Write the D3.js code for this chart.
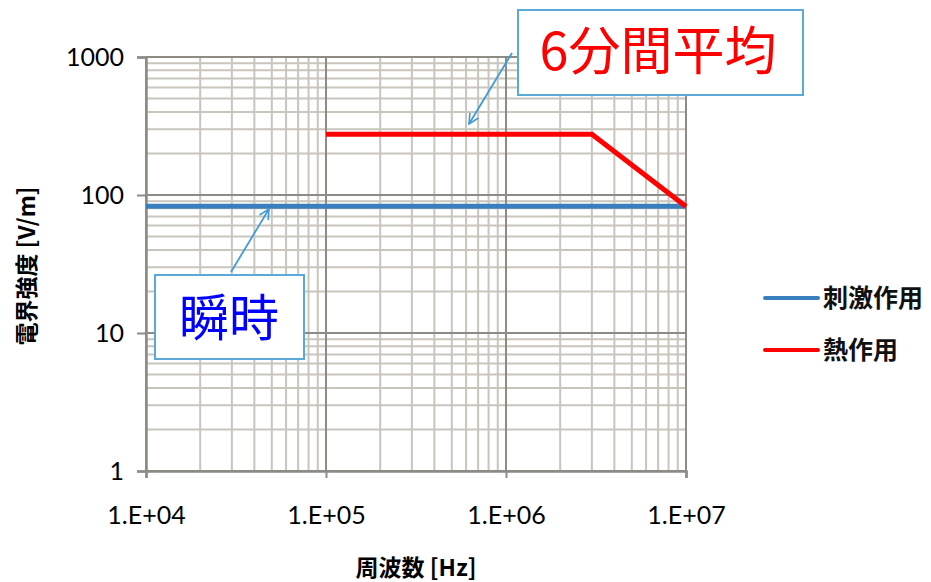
<!DOCTYPE html>
<html>
<head>
<meta charset="utf-8">
<script src="https://cdn.jsdelivr.net/npm/d3@7"></script>
<style>
  body { margin: 0; background: #fff; }
  svg { display: block; }
</style>
</head>
<body>
<svg id="chart"></svg>
<script>
// data
const series = ['刺激作用', '熱作用'];
const colors = ['#3a7fbd', '#ff0000'];
const stimFreq = [1e4, 1e7];
const stimField = [83, 83];
const heatFreq = [1e5, 3e6, 1e7];
const heatField = [275, 275, 82.4];
const xTicks = [1e4, 1e5, 1e6, 1e7];
const xTickLabels = ['1.E+04', '1.E+05', '1.E+06', '1.E+07'];
const yTicks = [1, 10, 100, 1000];
const yTickLabels = ['1', '10', '100', '1000'];

const width = 931, height = 582;
const margin = { left: 146, right: 245, top: 57, bottom: 111 };

const svg = d3.select('#chart')
  .attr('width', width)
  .attr('height', height);

const x = d3.scaleLog()
  .domain([1e4, 1e7])
  .range([margin.left, width - margin.right]);

const y = d3.scaleLog()
  .domain([1, 1000])
  .range([height - margin.bottom, margin.top]);

// minor values 2..9 in each decade
const minorX = [];
for (let d = 1e4; d < 1e7; d *= 10) for (let k = 2; k <= 9; k++) minorX.push(d * k);
const minorY = [];
for (let d = 1; d < 1000; d *= 10) for (let k = 2; k <= 9; k++) minorY.push(d * k);

const grid = svg.append('g');
grid.selectAll('.mx').data(minorX).enter().append('line')
  .attr('x1', (d) => x(d)).attr('x2', (d) => x(d))
  .attr('y1', y(1)).attr('y2', y(1000))
  .attr('stroke', '#c9c5bd').attr('stroke-width', 2);
grid.selectAll('.my').data(minorY).enter().append('line')
  .attr('y1', (d) => y(d)).attr('y2', (d) => y(d))
  .attr('x1', x(1e4)).attr('x2', x(1e7))
  .attr('stroke', '#c9c5bd').attr('stroke-width', 2);
grid.selectAll('.Mx').data(xTicks).enter().append('line')
  .attr('x1', (d) => x(d)).attr('x2', (d) => x(d))
  .attr('y1', y(1)).attr('y2', y(1000) - 1)
  .attr('stroke', '#8e8b87').attr('stroke-width', 2);
grid.selectAll('.My').data(yTicks).enter().append('line')
  .attr('y1', (d) => y(d)).attr('y2', (d) => y(d))
  .attr('x1', x(1e4)).attr('x2', x(1e7))
  .attr('stroke', '#8e8b87').attr('stroke-width', 2);

// axes
const xAxis = d3.axisBottom(x)
  .tickValues(xTicks)
  .tickFormat((d, i) => xTickLabels[i])
  .tickSize(7).tickPadding(28);
const yAxis = d3.axisLeft(y)
  .tickValues(yTicks)
  .tickFormat((d, i) => yTickLabels[i])
  .tickSize(9).tickPadding(13);

const gx = svg.append('g')
  .attr('transform', `translate(0,${y(1)})`)
  .call(xAxis);
const gy = svg.append('g')
  .attr('transform', `translate(${x(1e4)},0)`)
  .call(yAxis);

[gx, gy].forEach((g) => {
  g.select('.domain').attr('stroke', '#8e8b87').attr('stroke-width', 2.5);
  g.selectAll('.tick line').attr('stroke', '#8e8b87').attr('stroke-width', 2);
  g.selectAll('.tick text')
    .attr('fill', '#000')
    .style('font-family', 'Lato, "Open Sans", sans-serif')
    .style('font-size', '25px');
});
gy.selectAll('.tick text').attr('dy', '0.35em');

// series
const line = d3.line()
  .x((d) => x(d[0]))
  .y((d) => y(d[1]));

svg.append('path')
  .datum(stimFreq.map((f, i) => [f, stimField[i]]))
  .attr('d', line)
  .attr('fill', 'none')
  .attr('stroke', colors[0])
  .attr('stroke-width', 5);

svg.append('path')
  .datum(heatFreq.map((f, i) => [f, heatField[i]]))
  .attr('d', line)
  .attr('fill', 'none')
  .attr('stroke', colors[1])
  .attr('stroke-width', 5);

// axis titles
const jp = '"Noto Sans CJK JP", "Noto Sans", sans-serif';
svg.append('text')
  .attr('x', 416).attr('y', 568)
  .attr('dy', '0.35em')
  .attr('text-anchor', 'middle')
  .style('font-family', jp)
  .style('font-size', '23px')
  .style('font-weight', 'bold')
  .text('周波数 [Hz]');

svg.append('text')
  .attr('transform', 'translate(27,266) rotate(-90)')
  .attr('dy', '0.35em')
  .attr('text-anchor', 'middle')
  .style('font-family', jp)
  .style('font-size', '23px')
  .style('font-weight', 'bold')
  .text('電界強度 [V/m]');

// legend
const legend = svg.append('g');
series.forEach((s, i) => {
  const ly = 298 + i * 52;
  legend.append('line')
    .attr('x1', 765).attr('x2', 818)
    .attr('y1', ly).attr('y2', ly)
    .attr('stroke', colors[i])
    .attr('stroke-width', 4)
    .attr('stroke-linecap', 'round');
  legend.append('text')
    .attr('x', 823).attr('y', ly)
    .attr('dy', '0.35em')
    .style('font-family', jp)
    .style('font-size', '25px')
    .style('font-weight', 'bold')
    .attr('fill', '#111')
    .text(s);
});

// callouts
const defs = svg.append('defs');
defs.append('marker')
  .attr('id', 'arr')
  .attr('viewBox', '0 0 12 12')
  .attr('refX', 11).attr('refY', 6)
  .attr('markerWidth', 12).attr('markerHeight', 12)
  .attr('markerUnits', 'userSpaceOnUse')
  .attr('orient', 'auto')
  .append('path')
  .attr('d', 'M1,1 L11,6 L1,11')
  .attr('fill', 'none')
  .attr('stroke', '#3f9bd6')
  .attr('stroke-width', 1.6);

const callouts = [
  { text: '6分間平均', color: '#ff0000', box: [518, 10, 285, 85], from: [512, 53], to: [469, 124], tx: 658, ty: 52, size: 52 },
  { text: '瞬時', color: '#0000ff', box: [155, 275, 149, 84], from: [231, 272], to: [269, 209], tx: 229, ty: 318, size: 50 }
];

callouts.forEach((c) => {
  svg.append('line')
    .attr('x1', c.from[0]).attr('y1', c.from[1])
    .attr('x2', c.to[0]).attr('y2', c.to[1])
    .attr('stroke', '#3f9bd6')
    .attr('stroke-width', 1.8)
    .attr('marker-end', 'url(#arr)');
  svg.append('rect')
    .attr('x', c.box[0]).attr('y', c.box[1])
    .attr('width', c.box[2]).attr('height', c.box[3])
    .attr('fill', '#fff')
    .attr('stroke', '#5aaad8')
    .attr('stroke-width', 2);
  svg.append('text')
    .attr('x', c.tx).attr('y', c.ty)
    .attr('dy', '0.35em')
    .attr('text-anchor', 'middle')
    .attr('fill', c.color)
    .style('font-family', jp)
    .style('font-size', c.size + 'px')
    .text(c.text);
});
</script>
</body>
</html>
